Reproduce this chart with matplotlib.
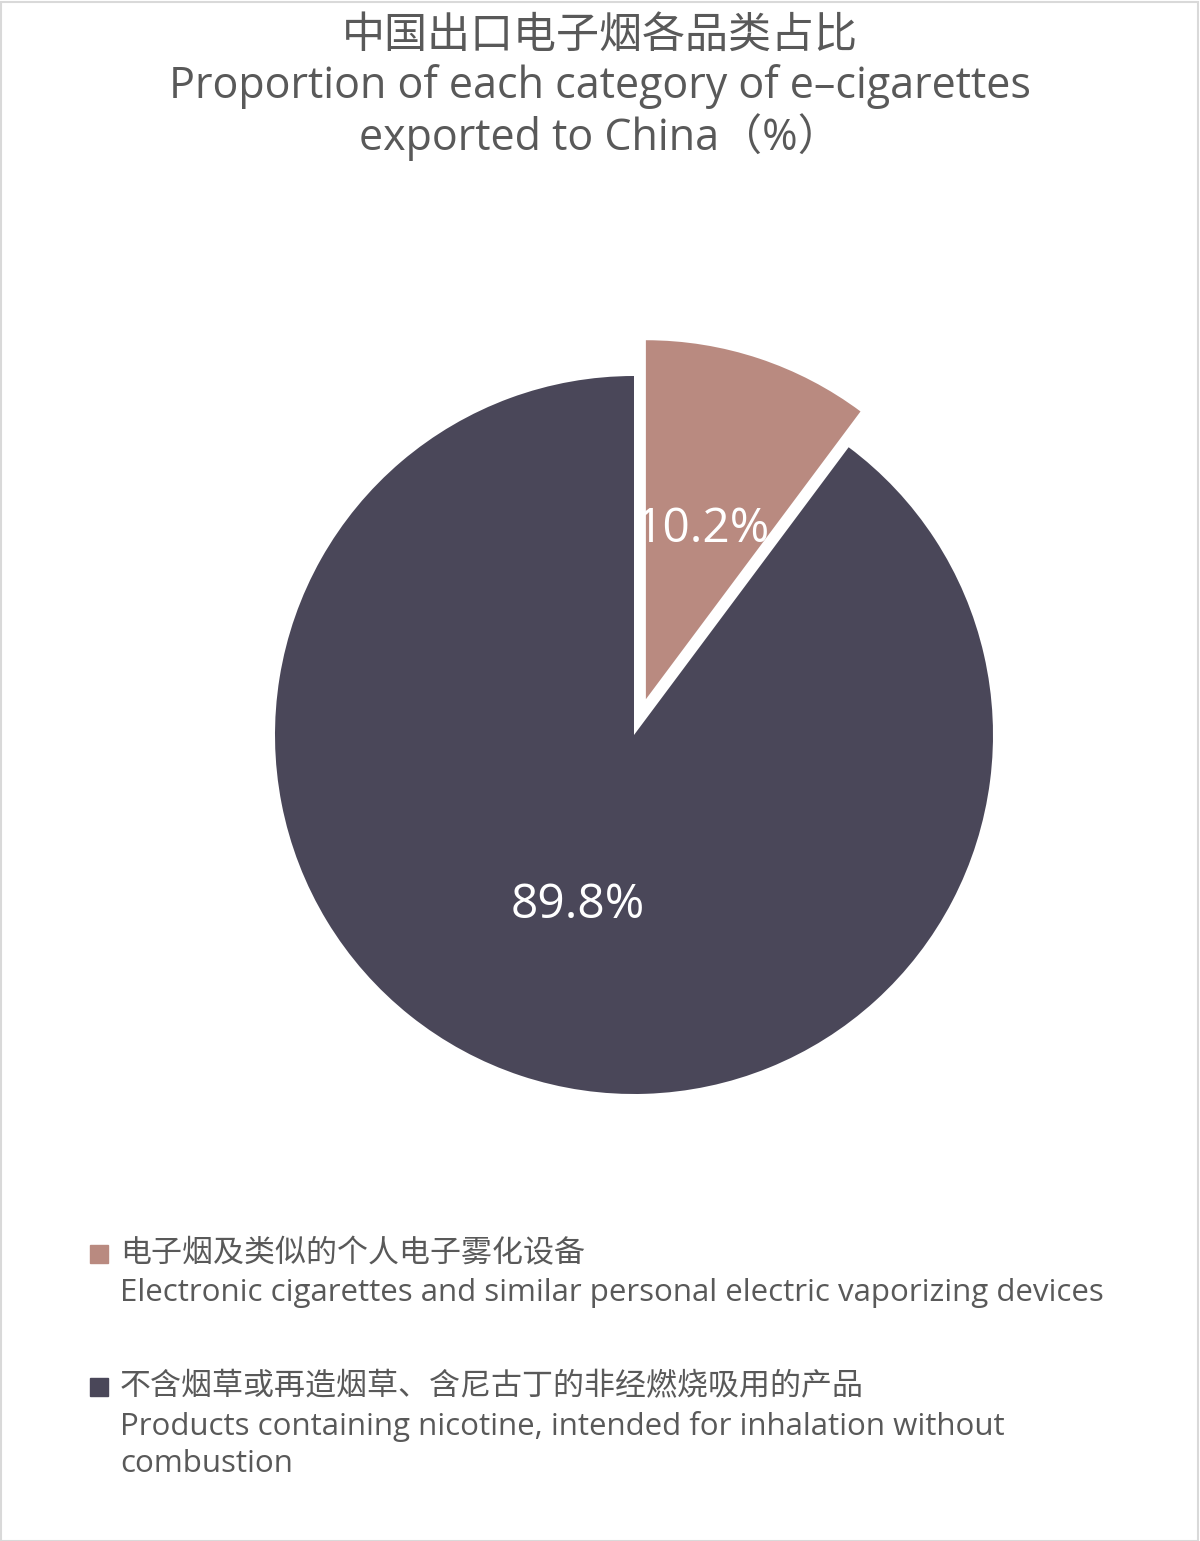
import matplotlib
matplotlib.use('Agg')
import matplotlib.pyplot as plt
from matplotlib.patches import Rectangle

plt.rcParams['font.family'] = ['Open Sans', 'Noto Sans CJK SC', 'DejaVu Sans']

#- data
title_cn = '中国出口电子烟各品类占比'
title_en = ['Proportion of each category of e\u2013cigarettes',
            'exported to China（%）']
shares = [10.2, 89.8]
labels_cn = ['电子烟及类似的个人电子雾化设备',
             '不含烟草或再造烟草、含尼古丁的非经燃烧吸用的产品']
labels_en = ['Electronic cigarettes and similar personal electric vaporizing devices',
             'Products containing nicotine, intended for inhalation without\ncombustion']
colors = ['#B98A80', '#4A4759']
explode = [0.105, 0]

W, H = 1200, 1541
fig = plt.figure(figsize=(W/100, H/100), dpi=100)

#- pie axes: centre (634, 735) px, radius 359 px
r_px = 359
cx, cy = 634, 735
lim = 1.25
size = 2*lim*r_px
ax = fig.add_axes([(cx - size/2)/W, (H - cy - size/2)/H, size/W, size/H])
wedges, texts, autotexts = ax.pie(shares, colors=colors, explode=explode,
                                  startangle=90, counterclock=False,
                                  autopct='%.1f%%', pctdistance=0.5,
                                  wedgeprops=dict(linewidth=0),
                                  textprops=dict(color='white', fontsize=34.5))
ax.set_xlim(-lim, lim)
ax.set_ylim(-lim, lim)
ax.set_aspect('equal')
ax.axis('off')

#- title
gray = '#595959'
fig.text(0.5, 1 - 37/H, title_cn, ha='center', va='center', fontsize=31, color=gray)
for i, line in enumerate(title_en):
    fig.text(0.5, 1 - (87 + 50*i)/H, line, ha='center', va='center',
             fontsize=31, color=gray)

#- legend drawn by hand (square + two-language label)
ys = [1254, 1387]
for y, c, cn, en in zip(ys, colors, labels_cn, labels_en):
    fig.patches.append(Rectangle((90/W, 1 - (y + 9)/H), 18/W, 18/H,
                                 transform=fig.transFigure, color=c))
    fig.text(120/W, 1 - y/H, cn, ha='left', va='center', fontsize=22.3, color=gray)
    fig.text(120/W, 1 - (y + 24)/H, en, ha='left', va='top', fontsize=22.5,
             color=gray, linespacing=1.29)

#- thin frame around the picture
fig.patches.append(Rectangle((0.5/W, 0.5/H), (W - 2.5)/W, (H - 2.5)/H,
                             transform=fig.transFigure, fill=False,
                             edgecolor='#d9d9d9', linewidth=1.5))

fig.savefig('out.png', dpi=100, facecolor='white')
